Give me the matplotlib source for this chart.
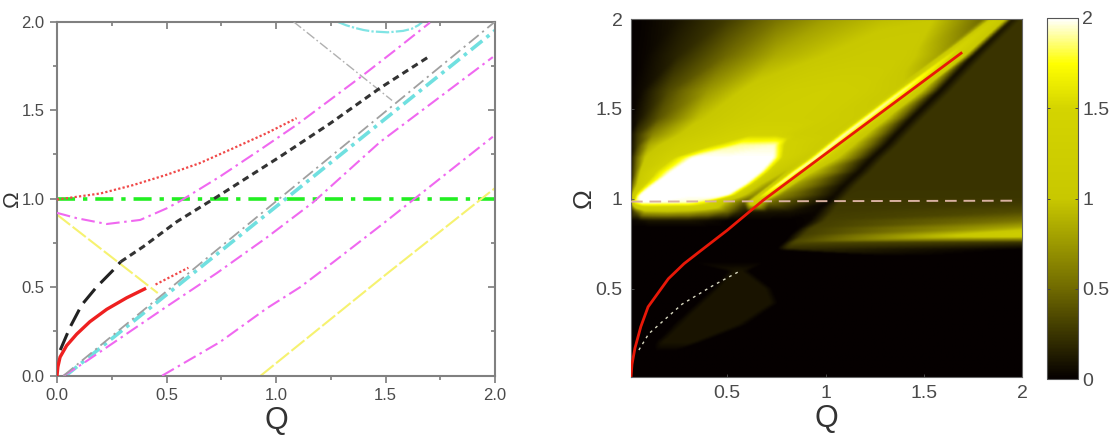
import numpy as np
import matplotlib
matplotlib.use("Agg")
import matplotlib.pyplot as plt
import matplotlib.tri as mtri
from matplotlib.colors import LinearSegmentedColormap

plt.rcParams['font.family'] = ['Liberation Sans', 'DejaVu Sans']
TXT = '#4a4a4a'

# ---------- left panel curves ----------
mag1_q = [0, .09, .227, .38, .50, .56, .744, .927, 1.094, 1.384, 1.535, 1.703]
mag1_w = [.92, .89, .857, .88, .945, .985, 1.125, 1.276, 1.417, 1.685, 1.83, 1.995]
mag2_q = [.03, .12, .5, .73, .957, 1.17, 1.475, 1.99]
mag2_w = [0, .07, .39, .58, .78, .98, 1.32, 1.80]
mag3_q = [.48, .744, .957, 1.11, 1.26, 1.49, 1.99]
mag3_w = [0, .19, .38, .5, .64, .86, 1.35]
yel1_q = [0, .46]
yel1_w = [.91, .467]
yel2_q = [.93, 1.5, 2.0]
yel2_w = [0, .57, 1.06]
blk1_q = [.015, .06, .113, .18, .257, .29]
blk1_w = [.145, .275, .40, .50, .597, .643]
blk2_q = [.29, .395, .547, .73, 1.018, 1.247, 1.475, 1.695]
blk2_w = [.643, .73, .87, 1.01, 1.237, 1.425, 1.625, 1.80]
red_q = [0, .004, .014, .044, .09, .15, .227, .318, .40]
red_w = [0, .05, .105, .17, .235, .305, .375, .44, .49]
rdot1_q = [0, .2, .348, .50, .65, .805, .957, 1.094]
rdot1_w = [.995, 1.03, 1.077, 1.135, 1.20, 1.285, 1.37, 1.455]
rdot2_q = [.45, .6]
rdot2_w = [.515, .61]
cyan_q = [.04, 2.0]
cyan_w = [0, 1.95]
gray_q = [.03, 2.0]
gray_w = [0, 2.0]
gray2_q = [1.08, 1.53]
gray2_w = [2.0, 1.555]
arc_q = [1.28, 1.32, 1.36, 1.40, 1.44, 1.51, 1.58, 1.62, 1.65, 1.67]
arc_w = [2.0, 1.98, 1.965, 1.953, 1.945, 1.94, 1.948, 1.96, 1.98, 2.0]
green_q = [0, 2]
green_w = [1, 1]

# ---------- right panel curves ----------
rline_q = [.01, .015, .03, .06, .097, .2, .28, .36, .5, .68, 1.16, 1.69]
rline_w = [.01, .08, .17, .29, .40, .556, .64, .708, .826, .99, 1.38, 1.81]
dash_q = [.01, 1.97]
dash_w = [.985, .99]
wdot_q = [.05, .1, .27, .43, .566]
wdot_w = [.16, .25, .415, .52, .60]

# ---------- heat map values, estimated along rows of the picture ----------
omega_rows = [0, .15, .2, .3, .42, .5, .6, .65, .685, .72, .76, .80, .84, .88, .93,
              .98, 1.02, 1.08, 1.15, 1.23, 1.3, 1.36, 1.45, 1.6, 1.8, 2.0]
q_rows = [
 [0,.1,.2,.3,.4,.5,.6,.7,.8,.9,1,1.3,1.6,2],
 [0,.1,.13,.15,.18,.2,.22,.3,.5,.7,1,1.3,1.6,2],
 [0,.1,.13,.17,.22,.27,.32,.36,.5,.7,1,1.3,1.6,2],
 [0,.1,.22,.27,.35,.45,.55,.6,.7,.85,1,1.3,1.6,2],
 [0,.1,.34,.38,.45,.55,.72,.76,.85,.92,1,1.3,1.6,2],
 [0,.1,.42,.46,.5,.6,.69,.73,.85,.92,1,1.3,1.6,2],
 [0,.1,.5,.54,.55,.56,.57,.61,.7,.85,1,1.3,1.6,2],
 [0,.1,.2,.3,.4,.5,.6,.7,.8,.9,1,1.3,1.6,2],
 [0,.1,.2,.3,.4,.5,.6,.7,.8,.9,1,1.3,1.6,2],
 [0,.1,.2,.3,.4,.5,.55,.6,.65,.7,.72,.75,.8,2],
 [0,.1,.2,.3,.4,.5,.55,.6,.65,.7,.75,.79,.84,2],
 [0,.1,.2,.3,.4,.5,.55,.6,.7,.76,.79,.82,.89,2],
 [0,.1,.2,.3,.4,.5,.55,.6,.7,.75,.81,.87,.93,2],
 [0,.05,.1,.2,.3,.4,.5,.55,.6,.7,.8,.92,1,2],
 [0,.03,.08,.2,.3,.4,.5,.56,.6,.7,.83,.96,1.04,2],
 [0,.01,.02,.06,.1,.3,.38,.48,.585,.625,.715,1.01,1.07,2],
 [0,.01,.035,.05,.08,.3,.5,.57,.64,.68,.77,1.05,1.11,2],
 [0,.02,.05,.09,.12,.4,.59,.65,.715,.755,.845,1.10,1.16,2],
 [0,.03,.06,.15,.21,.5,.67,.73,.80,.84,.93,1.17,1.23,2],
 [0,.03,.08,.2,.32,.5,.735,.79,.905,.945,1.035,1.24,1.30,2],
 [0,.04,.1,.25,.42,.56,.74,.80,.985,1.025,1.115,1.31,1.37,2],
 [0,.04,.12,.3,.5,.62,.75,.85,1.055,1.095,1.185,1.36,1.42,2],
 [0,.05,.15,.35,.55,.7,.85,1,1.165,1.205,1.295,1.44,1.50,2],
 [0,.06,.2,.4,.6,.8,1,1.18,1.345,1.385,1.475,1.58,1.64,2],
 [0,.08,.25,.5,.75,1,1.2,1.4,1.58,1.625,1.71,1.755,1.81,2],
 [0,.08,.25,.5,.75,1,1.3,1.55,1.80,1.86,1.92,1.95,1.98,2],
]
v_rows = [
 [0,0,0,0,0,0,0,0,0,0,0,0,0,0],
 [0,0,0,0,0,0,0,0,0,0,0,0,0,0],
 [0,0,0,.1,.1,.1,.1,0,0,0,0,0,0,0],
 [0,0,0,.1,.1,.1,.1,0,0,0,0,0,0,0],
 [0,0,0,.1,.1,.1,.1,0,0,0,0,0,0,0],
 [0,0,0,.1,.1,.1,.1,0,0,0,0,0,0,0],
 [0,0,0,.1,.1,.1,.1,0,0,0,0,0,0,0],
 [0,0,0,0,0,0,0,0,0,0,0,0,0,0],
 [0,0,0,0,0,0,0,0,0,0,0,0,0,0],
 [0,0,0,0,0,0,0,0,0,0,0,0,.2,0],
 [0,0,0,0,0,0,0,0,0,0,0,0,.35,.25],
 [0,0,0,0,0,0,0,0,0,0,0,0,.3,1.3],
 [0,0,0,0,0,0,0,0,0,0,0,.01,.3,.85],
 [0,.05,.1,.1,.1,.05,0,0,0,0,0,.02,.3,.55],
 [0,.4,.9,.95,.9,.75,.5,.2,.1,.1,.08,.03,.28,.35],
 [0,.9,1.7,2,2,1.95,1.7,1.0,.4,1.4,.5,.03,.27,.27],
 [0,.9,1.6,2,2,2,2,1.1,.6,1.8,.65,.05,.25,.25],
 [0,.6,1.2,1.6,2,2,2,1.1,.7,2,.8,.05,.25,.25],
 [0,.5,1.1,1.6,2,2,2,1.2,.9,2,1.0,.05,.25,.25],
 [0,.4,1.0,1.35,2,2,2,1.4,1.1,2,1.15,.05,.25,.25],
 [0,.3,.85,1.25,1.45,1.9,1.95,1.4,1.15,2,1.15,.05,.25,.25],
 [0,.25,.65,1.1,1.35,1.45,1.45,1.25,1.15,2,1.15,.05,.25,.25],
 [0,.1,.4,.95,1.2,1.3,1.3,1.25,1.15,2,1.15,.05,.25,.25],
 [0,.05,.35,.75,1.05,1.25,1.3,1.25,1.05,1.95,1.15,.05,.25,.25],
 [0,.03,.18,.5,.85,1.0,1.1,1.1,.8,1.65,1.1,.05,.25,.25],
 [0,.02,.1,.28,.55,.78,.95,1,.5,1.25,.95,.1,.2,.25],
]

cb_ticks = [0, .5, 1, 1.5, 2]

W, H = 1114, 437
fig = plt.figure(figsize=(W/100, H/100), dpi=100)

def ax_px(l, t, r, b):
    return [l/W, 1-b/H, (r-l)/W, (b-t)/H]

# ---------- left ----------
ax = fig.add_axes(ax_px(57, 21.7, 495, 375.7))
ax.set_xlim(0, 2); ax.set_ylim(0, 2)
MAG = '#f068f0'
dd = (0, (6.5, 2.2, 1.2, 2.2))
ax.plot(green_q, green_w, color='#22ee22', lw=2.6, ls=(0, (5, 2.2, 1.2, 2.2)), zorder=2)
for qq, ww in [(mag1_q, mag1_w), (mag2_q, mag2_w), (mag3_q, mag3_w)]:
    ax.plot(qq, ww, color=MAG, lw=1.5, ls=dd, zorder=3)
ax.plot(yel1_q, yel1_w, color='#f6f270', lw=1.5, ls=(0, (8, 1.5)), zorder=2)
ax.plot(yel2_q, yel2_w, color='#f6f270', lw=1.5, ls=(0, (8, 1.5)), zorder=2)
ax.plot(cyan_q, cyan_w, color='#70e0e0', lw=2.6, ls=(0, (4, 1.5, 1, 1.5)), zorder=2)
ax.plot(gray_q, gray_w, color='#a0a0a0', lw=1.3, ls=(0, (7, 2.5, 1.2, 2.5)), zorder=3)
ax.plot(gray2_q, gray2_w, color='#b0b0b0', lw=1.0, ls=(0, (7, 2, 1.2, 2)), zorder=3)
ax.plot(arc_q, arc_w, color='#80e4e4', lw=1.6, ls=(0, (6, 1, 1, 1)), zorder=2)
ax.plot(blk1_q, blk1_w, color='#222222', lw=2.2, ls=(0, (6, 2.6)), zorder=4)
ax.plot(blk2_q, blk2_w, color='#333333', lw=2.2, ls=(0, (2.2, 1.5)), zorder=4)
ax.plot(red_q, red_w, color='#ee2020', lw=2.4, zorder=5)
ax.plot(rdot1_q, rdot1_w, color='#f04848', lw=1.6, ls=(0, (1, 1)), zorder=5)
ax.plot(rdot2_q, rdot2_w, color='#f04848', lw=1.6, ls=(0, (1, 1)), zorder=5)
maj = [0, .5, 1, 1.5, 2]
mnr = [.25, .75, 1.25, 1.75]
ax.set_xticks(maj); ax.set_yticks(maj)
ax.set_xticklabels(['0.0', '0.5', '1.0', '1.5', '2.0'])
ax.set_yticklabels(['0.0', '0.5', '1.0', '1.5', '2.0'])
ax.set_xticks(mnr, minor=True)
ax.set_yticks(mnr, minor=True)
ax.tick_params(which='major', direction='out', length=5, width=1.1, color='#707070',
               labelcolor=TXT, labelsize=12, pad=4)
ax.tick_params(which='minor', direction='out', length=3, width=1.1, color='#707070')
for s in ax.spines.values():
    s.set_color('#808080'); s.set_linewidth(1.5)
ax.set_xlabel('Q', fontsize=22, color='#333333', labelpad=2)
ax.set_ylabel('Ω', fontsize=16, color='#333333', labelpad=-1)
top = ax.secondary_xaxis('top')
top.set_xticks(maj); top.set_xticks(mnr, minor=True)
top.tick_params(which='major', direction='in', length=5, width=1.1, color='#707070', labeltop=False)
top.tick_params(which='minor', direction='in', length=3, width=1.1, color='#707070')
rgt = ax.secondary_yaxis('right')
rgt.set_yticks(maj); rgt.set_yticks(mnr, minor=True)
rgt.tick_params(which='major', direction='in', length=5, width=1.1, color='#707070', labelright=False)
rgt.tick_params(which='minor', direction='in', length=3, width=1.1, color='#707070')
for sec in (top, rgt):
    for s in sec.spines.values():
        s.set_visible(False)

# ---------- right ----------
cmap = LinearSegmentedColormap.from_list('hm', [
    (0, '#050000'), (.25, '#706a00'), (.5, '#c8c800'), (.75, '#d4d400'),
    (.875, '#ffff00'), (1, '#ffffff')])
axr = fig.add_axes(ax_px(631, 19, 1022, 377))
Q = np.array(q_rows, float)
V = np.array(v_rows, float)
W2 = np.repeat(np.array(omega_rows, float)[:, None], Q.shape[1], axis=1)
nr, nc = Q.shape
tris = []
for i in range(nr-1):
    for j in range(nc-1):
        a = i*nc+j; b = a+1; c = a+nc; d = c+1
        tris += [[a, b, d], [a, d, c]]
tr = mtri.Triangulation(Q.ravel(), W2.ravel(), np.array(tris))
interp = mtri.LinearTriInterpolator(tr, V.ravel())
gq, gw = np.meshgrid(np.linspace(0, 2, 500), np.linspace(0, 2, 460))
Z = np.ma.filled(interp(gq, gw), 0)

# soften the picture a little, the original is a blurred scan
x = np.arange(-6, 7)
kern = np.exp(-x**2 / (2*1.4**2)); kern /= kern.sum()
P = np.pad(Z, 6, mode='edge')
P = np.apply_along_axis(lambda r: np.convolve(r, kern, mode='same'), 0, P)
P = np.apply_along_axis(lambda r: np.convolve(r, kern, mode='same'), 1, P)
Z = P[6:-6, 6:-6]

im = axr.imshow(Z, origin='lower', extent=[0, 2, 0, 2], aspect='auto', cmap=cmap,
                vmin=0, vmax=2, interpolation='bilinear')
axr.plot(dash_q, dash_w, color='#d8b0a0', lw=1.4, ls=(0, (6, 3.5)), zorder=3)
axr.plot(wdot_q, wdot_w, color='#d8d8c0', lw=1.0, ls=(0, (2, 3)), zorder=3)
axr.plot(rline_q, rline_w, color='#e81808', lw=2.0, zorder=4)
axr.set_xlim(.01, 2); axr.set_ylim(.01, 2)
axr.set_xticks([.5, 1, 1.5, 2]); axr.set_yticks([.5, 1, 1.5, 2])
axr.set_xticklabels(['0.5', '1', '1.5', '2'])
axr.set_yticklabels(['0.5', '1', '1.5', '2'])
axr.tick_params(direction='in', length=2, width=.6, color='#555555', labelcolor=TXT,
                labelsize=14, pad=6)
for s in axr.spines.values():
    s.set_color('#666666'); s.set_linewidth(.8)
axr.set_xlabel('Q', fontsize=22, color='#333333', labelpad=1)
axr.set_ylabel('Ω', fontsize=19, color='#333333', labelpad=0)

cax = fig.add_axes(ax_px(1047, 18, 1078, 379))
cb = fig.colorbar(im, cax=cax, ticks=cb_ticks)
cb.ax.set_yticklabels(['0', '0.5', '1', '1.5', '2'])
cb.ax.tick_params(direction='in', length=2.5, width=.7, color='#444444', labelcolor=TXT,
                  labelsize=14, pad=3, left=True)
cb.outline.set_edgecolor('#555555'); cb.outline.set_linewidth(.8)

fig.savefig('out.png', dpi=100)
